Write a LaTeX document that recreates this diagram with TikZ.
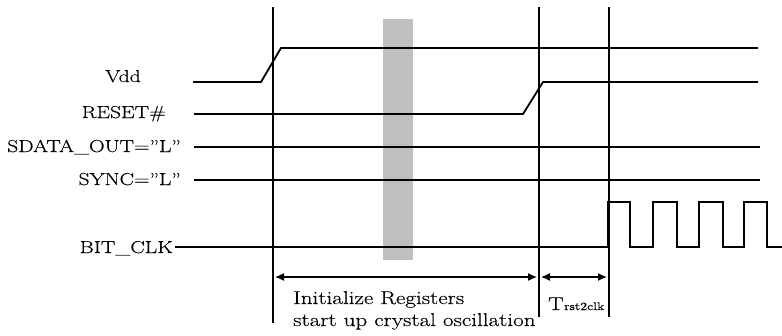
\documentclass[tikz,border=0pt]{standalone}
\usepackage{fontspec}
\setmainfont{Latin Modern Roman}[FakeStretch=1.25,FakeBold=0.3]
\usetikzlibrary{arrows.meta}
\begin{document}
\begin{tikzpicture}[x=1pt,y=-1pt,
  wave/.style={line width=1.8pt,line join=miter},
  vline/.style={line width=1.5pt},
  dim/.style={line width=1.3pt,{Latex[length=9pt,width=8pt]}-{Latex[length=9pt,width=8pt]},shorten <=2pt,shorten >=2pt},
  lbl/.style={font=\fontsize{17.3}{21}\selectfont,inner sep=0pt},
  note/.style={font=\fontsize{18.5}{22}\selectfont,inner sep=0pt,anchor=base west}]
\useasboundingbox (0,0) rectangle (782,335);
% grey band
\fill[black!25] (383,19) rectangle (413,260);
% vertical markers
\coordinate (t1top) at (273,7);   \coordinate (t1bot) at (273,323);
\coordinate (t2top) at (539,7);   \coordinate (t2bot) at (539,317);
\coordinate (t3top) at (609,7);   \coordinate (t3bot) at (609,317);
\draw[vline] (t1top) -- (t1bot);
\draw[vline] (t2top) -- (t2bot);
\draw[vline] (t3top) -- (t3bot);
% labels
\node[lbl,anchor=base] (vdd) at (123,82) {Vdd};
\node[lbl,anchor=base east] (rst) at (166,118) {RESET\#};
\node[lbl,anchor=base east] (sdo) at (181,152) {SDATA\_OUT=\textquotedblright L\textquotedblright};
\node[lbl,anchor=base east] (sync) at (181,185) {SYNC=\textquotedblright L\textquotedblright};
\node[lbl,anchor=base east] (clk) at (173,253) {BIT\_CLK};
% waveforms
\draw[wave] (193,82) -- (261,82) -- (281,48) -- (758,48);
\draw[wave] (194,114) -- (523,114) -- (543,82) -- (758,82);
\draw[wave] (194,147) -- (760,147);
\draw[wave] (194,180) -- (760,180);
\draw[wave] (clk.east |- 0,247) ++(2,0) -- (608,247) -- (608,202) -- (630,202) -- (630,247) -- (653,247) -- (653,202)
  -- (677,202) -- (677,247) -- (699,247) -- (699,202) -- (723,202) -- (723,247) -- (744,247) -- (744,202)
  -- (767,202) -- (767,247) -- (782,247);
% dimension arrows
\coordinate (a1) at (273,277); \coordinate (a2) at (539,277); \coordinate (a3) at (609,277);
\draw[dim] (a1) -- (a2);
\draw[dim] (a2) -- (a3);
\node[note] (init) at (293,304) {Initialize Registers};
\node[note] (xtal) at (293,326) {start up crystal oscillation};
\node[note] (trst) at (548,310) {T\kern0.5pt{\fontsize{11}{13}\selectfont rst2clk}};
\end{tikzpicture}
\end{document}
